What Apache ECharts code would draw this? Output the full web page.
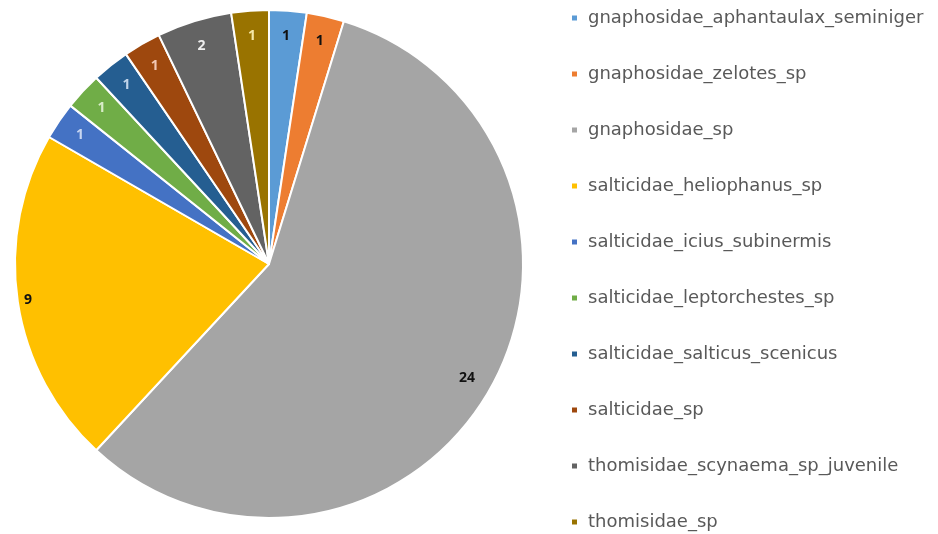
<!DOCTYPE html>
<html>
<head>
<meta charset="utf-8">
<script src="https://cdn.jsdelivr.net/npm/echarts@6/dist/echarts.min.js"></script>
<style>
  html, body { margin: 0; padding: 0; background: #fff; }
  #chart { width: 938px; height: 534px; }
</style>
</head>
<body>
<div id="chart"></div>
<script>
const species = [
  'gnaphosidae_aphantaulax_seminiger',
  'gnaphosidae_zelotes_sp',
  'gnaphosidae_sp',
  'salticidae_heliophanus_sp',
  'salticidae_icius_subinermis',
  'salticidae_leptorchestes_sp',
  'salticidae_salticus_scenicus',
  'salticidae_sp',
  'thomisidae_scynaema_sp_juvenile',
  'thomisidae_sp'
]
const counts = [1, 1, 24, 9, 1, 1, 1, 1, 2, 1]

const sliceColors = ['#5B9BD5', '#ED7D31', '#A5A5A5', '#FFC000', '#4472C4',
  '#70AD47', '#255E91', '#9E480E', '#636363', '#997300']
const labelColors = ['#111', '#111', '#111', '#111', '#c8d6f0',
  '#d8ecc8', '#c0d4ea', '#f2c8b4', '#eeeeee', '#f6e7a6']

const cx = 269, cy = 264, r = 254
const total = counts.reduce((a, b) => a + b, 0)

const chart = echarts.init(document.getElementById('chart'))

// put each label on the slice's mid-angle, close to the rim
function placeLabel(params) {
  const i = params.dataIndex
  let before = 0
  for (let k = 0; k < i; k++) before += counts[k]
  const mid = (before + counts[i] / 2) / total * Math.PI * 2
  const f = counts[i] === 9 ? 0.96 : 0.9
  return {
    x: cx + Math.sin(mid) * r * f,
    y: cy - Math.cos(mid) * r * f,
    align: 'center',
    verticalAlign: 'middle'
  }
}

const option = {
  animation: false,
  legend: {
    orient: 'vertical',
    left: 570,
    top: 9,
    bottom: 0,
    padding: 0,
    itemWidth: 7,
    itemHeight: 7,
    itemGap: 38,
    icon: 'rect',
    textStyle: {
      fontFamily: 'DejaVu Sans',
      fontSize: 18,
      lineHeight: 18,
      color: '#595959',
      padding: [0, 0, 0, 5]
    },
    data: species
  },
  series: [
    {
      type: 'pie',
      center: [cx, cy],
      radius: r,
      startAngle: 90,
      clockwise: true,
      itemStyle: { borderColor: '#fff', borderWidth: 2 },
      label: {
        show: true,
        position: 'inside',
        fontFamily: 'Open Sans',
        fontSize: 14,
        fontWeight: 'bold',
        formatter: '{c}'
      },
      labelLayout: placeLabel,
      labelLine: { show: false },
      emphasis: { disabled: true },
      data: species.map((name, i) => ({
        name: name,
        value: counts[i],
        itemStyle: { color: sliceColors[i] },
        label: { color: labelColors[i] }
      }))
    }
  ]
}

chart.setOption(option)
</script>
</body>
</html>
